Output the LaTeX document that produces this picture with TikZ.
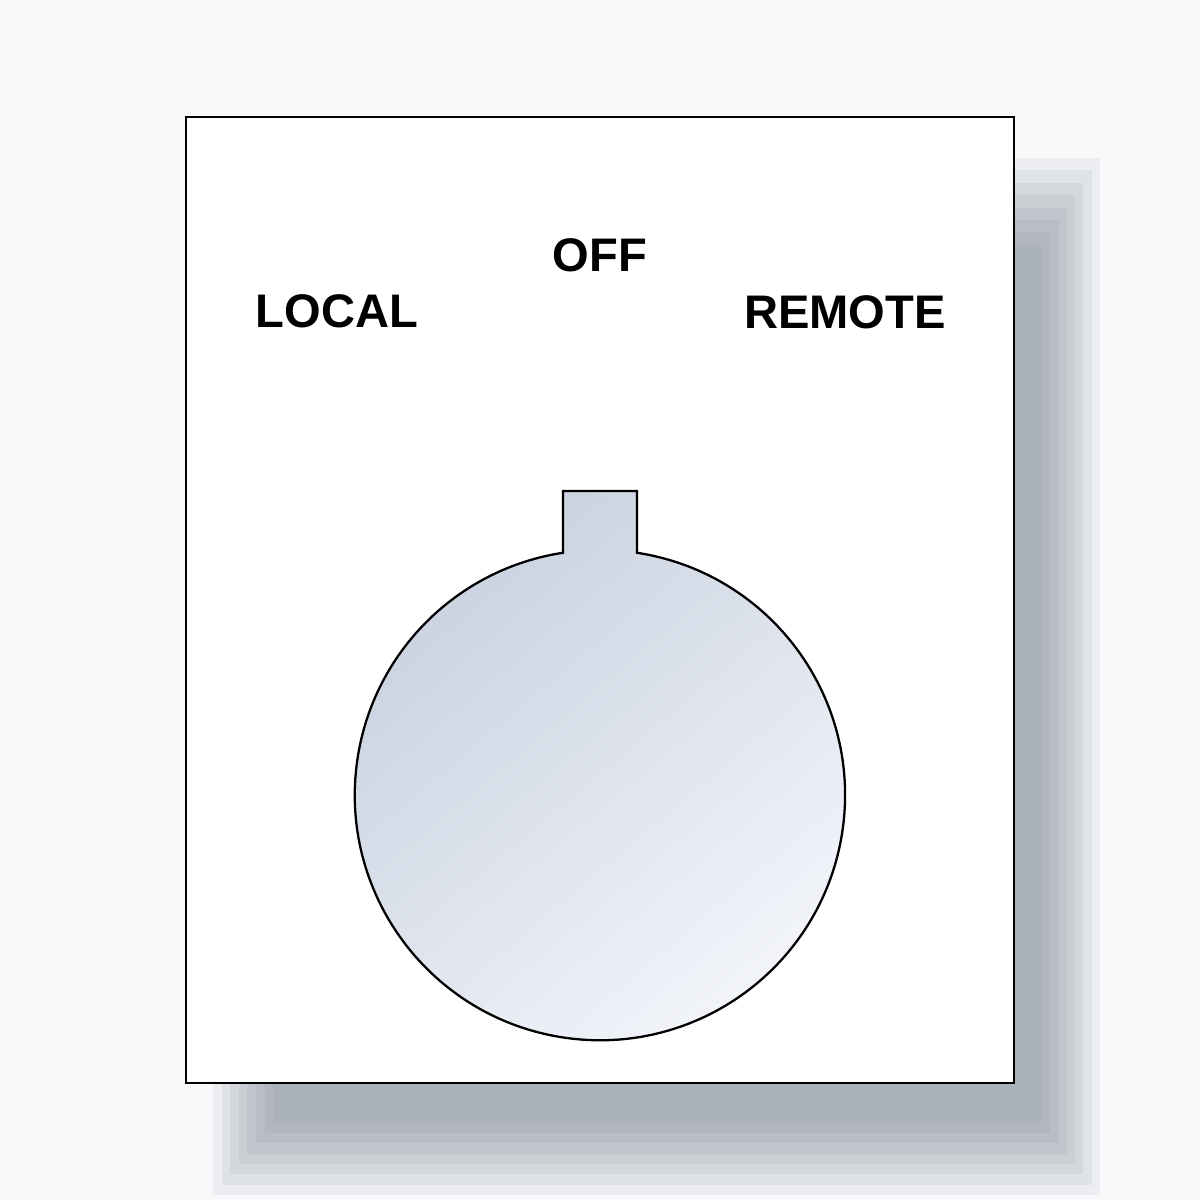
\documentclass[tikz,border=0pt]{standalone}
\usepackage{fontspec}
\setmainfont{Liberation Sans}
\usepackage{tikz}
\usetikzlibrary{calc}
\definecolor{bgpage}{RGB}{248,249,251}
\definecolor{shadowcol}{RGB}{110,118,132}
\definecolor{knobdark}{RGB}{200,209,223}
\definecolor{knoblight}{RGB}{243,245,250}

\begin{document}
\begin{tikzpicture}[x=0.01cm,y=0.01cm,
        panel/.style={draw=black,line width=0.75pt,fill=white},
        knob/.style={draw=black,line width=0.65pt,top color=knobdark,bottom color=knoblight,shading angle=40},
        legend/.style={font=\fontsize{13.4}{16}\selectfont\bfseries,inner sep=0,anchor=base}]
        \fill[bgpage] (0,0) rectangle (1200,1200);
        \useasboundingbox (0,0) rectangle (1200,1200);
        % stepped shadow
        \foreach \i in {0,...,7}
          \fill[shadowcol,opacity=0.09] (213+8.6*\i,5+10.3*\i) rectangle (1100-8.3*\i,1042-12.4*\i);
        \draw[panel] (186,117) rectangle (1014,1083);
        \coordinate (c) at (600,405);
        \draw[knob] (563,647.2) -- (563,709) -- (637,709) -- (637,647.2)
          arc[start angle=81.3,end angle=-261.3,radius=2.45cm] -- cycle;
        \node[legend] (local)  at (337,872) {LOCAL};
        \node[legend] (off)    at (600,928) {OFF};
        \node[legend] (remote) at (845,871) {REMOTE};
      \end{tikzpicture}
\end{document}
